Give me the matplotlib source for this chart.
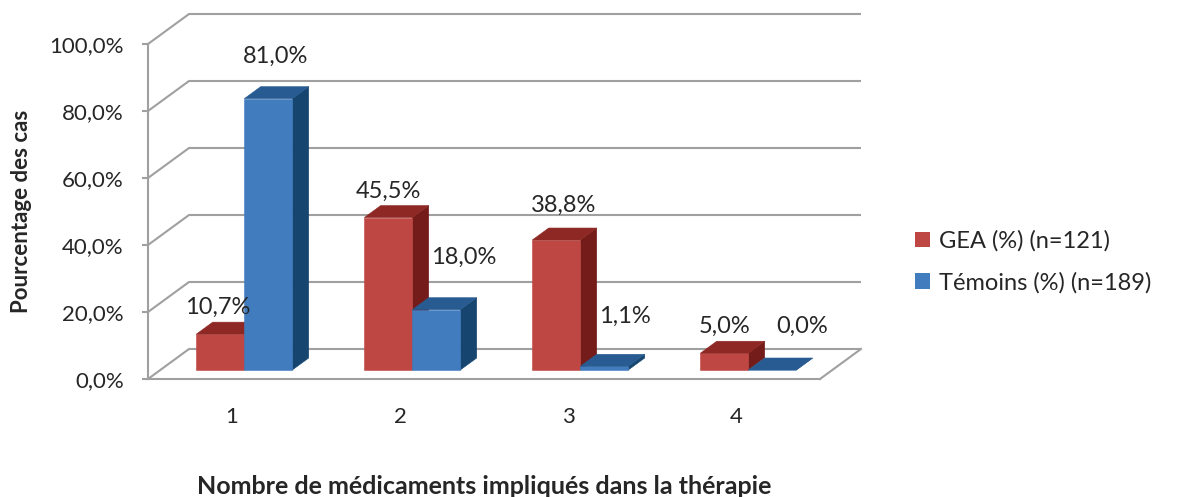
import matplotlib
matplotlib.use('Agg')
import matplotlib.pyplot as plt
from matplotlib.patches import Polygon, Patch

# donnees
categories = ['1', '2', '3', '4']
gea = [10.7, 45.5, 38.8, 5.0]
temoins = [81.0, 18.0, 1.1, 0.0]
series_names = ['GEA (%) (n=121)', 'Témoins (%) (n=189)']
yticks = [0, 20, 40, 60, 80, 100]

# decalage des etiquettes (pixels) comme dans excel
lab_off_gea = [(-3, 27), (0, 26), (7, 35), (0, 27)]
lab_off_tem = [(7, 42), (27, 52), (21, 50), (30, 44)]

plt.rcParams['font.family'] = ['Lato', 'DejaVu Sans']
txt = '#262626'
grid_c = '#A0A0A0'

fig = plt.figure(figsize=(11.77, 4.97), dpi=100)
ax = fig.add_axes([148/1177, 1-379/497, 672/1177, 335/497])
ax.set_xlim(0, len(categories))
ax.set_ylim(0, 100)

# profondeur 3d (en unites de donnees)
DX = 41/168
DY = 30/3.35

def proj(x, y, z):
    return (x + z*DX, y + z*DY)

def pct(v):
    return ('%.1f%%' % v).replace('.', ',')

# murs / grille
n = len(categories)
for v in yticks:
    ax.plot([0, DX, n+DX], [v, v+DY, v+DY], color=grid_c, lw=1.5, clip_on=False, zorder=1, solid_capstyle='butt')
ax.plot([n, n+DX], [0, DY], color=grid_c, lw=1.5, clip_on=False, zorder=1)

w = 0.2857
z0, z1 = 0.3, 0.7

def bar3d(x0, h, front, top, side):
    f = [proj(x0, 0, z0), proj(x0+w, 0, z0), proj(x0+w, h, z0), proj(x0, h, z0)]
    t = [proj(x0, h, z0), proj(x0+w, h, z0), proj(x0+w, h, z1), proj(x0, h, z1)]
    s = [proj(x0+w, 0, z0), proj(x0+w, 0, z1), proj(x0+w, h, z1), proj(x0+w, h, z0)]
    for pts, c in [(s, side), (f, front), (t, top)]:
        ax.add_patch(Polygon(pts, closed=True, facecolor=c, edgecolor=c, lw=0.4, clip_on=False, zorder=3))

red = ('#BF4743', '#8E2824', '#741C19')
blue = ('#417CBE', '#275B91', '#16466F')

for i in range(n):
    c = i + 0.5
    bar3d(c - w, gea[i], *red)
    bar3d(c, temoins[i], *blue)
    fx, fy = proj(c - w/2, gea[i], z0)
    ax.annotate(pct(gea[i]), (fx, fy), xytext=lab_off_gea[i], textcoords='offset pixels',
                ha='center', va='center', fontsize=17, color=txt, zorder=5, annotation_clip=False)
    fx, fy = proj(c + w/2, temoins[i], z0)
    ax.annotate(pct(temoins[i]), (fx, fy), xytext=lab_off_tem[i], textcoords='offset pixels',
                ha='center', va='center', fontsize=17, color=txt, zorder=5, annotation_clip=False)

# axes
for s in ['top', 'right']:
    ax.spines[s].set_visible(False)
ax.spines['left'].set_color(grid_c)
ax.spines['left'].set_linewidth(1.5)
ax.spines['bottom'].set_color(grid_c)
ax.spines['bottom'].set_linewidth(1.5)
ax.set_yticks(yticks)
ax.set_yticklabels([pct(v) for v in yticks])
ax.set_xticks([i + 0.5 for i in range(n)])
ax.set_xticklabels(categories)
ax.tick_params(axis='y', length=4.5, width=1.5, color=grid_c, labelcolor=txt, labelsize=16, pad=13)
ax.tick_params(axis='x', length=0, labelcolor=txt, labelsize=16, pad=20)
ax.patch.set_visible(False)

ax.set_ylabel('Pourcentage des cas', fontsize=16, fontweight='bold', color=txt)
ax.yaxis.set_label_coords(-0.173, 0.5)
ax.set_xlabel('Nombre de médicaments impliqués dans la thérapie', fontsize=18, fontweight='bold', color=txt)
ax.xaxis.label.set_va('center')
ax.xaxis.set_label_coords(0.5, (379-487)/335)

handles = [Patch(facecolor=red[0]), Patch(facecolor=blue[0])]
fig.legend(handles, series_names, loc='center left', bbox_to_anchor=(910/1177, 1-262/497),
           frameon=False, fontsize=17, handlelength=0.64, handleheight=0.64, handletextpad=0.4,
           labelspacing=0.85, labelcolor=txt, borderpad=0.2, borderaxespad=0)

fig.savefig('out.png', dpi=100)
